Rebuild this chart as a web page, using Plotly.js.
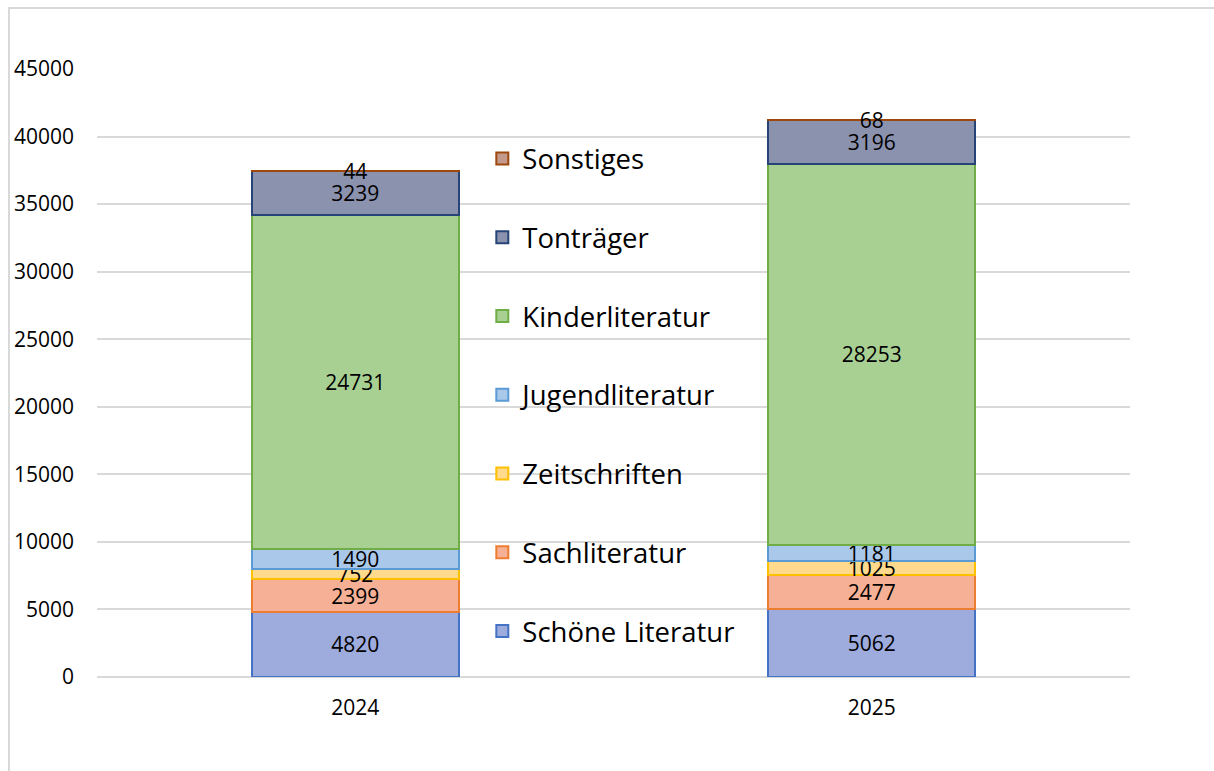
<!DOCTYPE html>
<html>
<head>
<meta charset="utf-8">
<script src="https://cdn.plot.ly/plotly-3.0.1.min.js"></script>
<style>
html,body{margin:0;padding:0;background:#fff;}
#chart{width:1214px;height:771px;position:absolute;left:0;top:0;}
#frame{position:absolute;left:8px;top:7px;width:1206px;height:764px;border-top:2px solid #d9d9d9;border-left:2px solid #d9d9d9;pointer-events:none;box-sizing:border-box;}
</style>
</head>
<body>
<div id="chart"></div>
<div id="frame"></div>
<script>
const years = ['2024', '2025'];
const seriesNames = ['Schöne Literatur', 'Sachliteratur', 'Zeitschriften', 'Jugendliteratur', 'Kinderliteratur', 'Tonträger', 'Sonstiges'];
const schoeneLiteratur = [4820, 5062];
const sachliteratur = [2399, 2477];
const zeitschriften = [752, 1025];
const jugendliteratur = [1490, 1181];
const kinderliteratur = [24731, 28253];
const tontraeger = [3239, 3196];
const sonstiges = [44, 68];
const yTicks = [0, 5000, 10000, 15000, 20000, 25000, 30000, 35000, 40000, 45000];

const values = [schoeneLiteratur, sachliteratur, zeitschriften, jugendliteratur, kinderliteratur, tontraeger, sonstiges];
const fills = ['#9dabdd', '#f5b095', '#ffd98c', '#a9c8ea', '#a9d093', '#8b92ae', '#c39a8c'];
const borders = ['#4472c4', '#ed7d31', '#ffc000', '#5b9bd5', '#70ad47', '#264478', '#9e480e'];

const FONT = 'Open Sans, Liberation Sans, sans-serif';

const traces = seriesNames.map((name, i) => ({
  type: 'bar',
  name: name,
  x: years,
  y: values[i],
  text: values[i].map(String),
  textposition: 'inside',
  insidetextanchor: 'middle',
  textangle: 0,
  constraintext: 'none',
  cliponaxis: false,
  textfont: {family: FONT, size: 21, color: '#000'},
  marker: {color: fills[i], line: {color: borders[i], width: 2}},
  legendgroup: 'g' + i,
  legendrank: 1000 - i,
  hoverinfo: 'skip'
}));

const layout = {
  width: 1214,
  height: 771,
  margin: {l: 97, r: 84, t: 69, b: 94},
  paper_bgcolor: '#fff',
  plot_bgcolor: '#fff',
  barmode: 'stack',
  bargap: 0.6,
  uniformtext: {mode: 'show', minsize: 21},
  font: {family: FONT, size: 21, color: '#000'},
  xaxis: {
    type: 'category',
    showgrid: false,
    showline: false,
    ticks: '',
    ticklabelstandoff: 16,
    tickfont: {family: FONT, size: 21, color: '#000'}
  },
  yaxis: {
    range: [0, 45000],
    tickvals: yTicks,
    ticktext: yTicks.map(String),
    showgrid: true,
    gridcolor: '#d9d9d9',
    gridwidth: 2,
    zeroline: true,
    zerolinecolor: '#d9d9d9',
    zerolinewidth: 2,
    showline: false,
    ticks: '',
    ticklabelstandoff: 22,
    tickfont: {family: FONT, size: 21, color: '#000'}
  },
  showlegend: true,
  legend: {
    x: 0.373,
    xanchor: 'left',
    y: 0.893,
    yanchor: 'top',
    bgcolor: 'rgba(0,0,0,0)',
    traceorder: 'grouped',
    tracegroupgap: 40,
    font: {family: FONT, size: 27.5, color: '#000'}
  }
};

Plotly.newPlot('chart', traces, layout, {staticPlot: true, displayModeBar: false});
</script>
</body>
</html>
